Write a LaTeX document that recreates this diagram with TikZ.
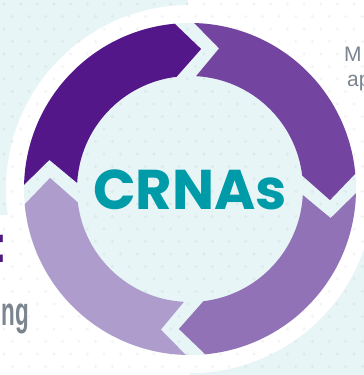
\documentclass[tikz,border=0pt]{standalone}
\usepackage{fontspec}
\setmainfont{Liberation Sans}
\newfontfamily\popfont{Poppins}
\usetikzlibrary{calc}
\definecolor{lblue}{HTML}{E8F5F7}
\definecolor{segA}{HTML}{54178A}
\definecolor{segB}{HTML}{7445A0}
\definecolor{segC}{HTML}{9172B6}
\definecolor{segD}{HTML}{AE9CCC}
\definecolor{crnateal}{HTML}{009BA8}
\definecolor{graytxt}{HTML}{7B8590}
\definecolor{headpurple}{HTML}{4E1A80}
\tikzset{
  dot/.style={fill=black, fill opacity=0.045},
  sidetext/.style={text=graytxt, inner sep=0pt, font=\fontsize{21}{24}\selectfont}
}
\begin{document}
\begin{tikzpicture}[x=1pt,y=1pt]
\clip (0,0) rectangle (364,375);
\fill[white] (0,0) rectangle (364,375);
\fill[lblue] (0,160) rectangle (188,375);
\fill[lblue] (190,0) rectangle (364,160);
\coordinate (C) at (190,186);
\fill[white] (C) circle[radius=184];
\fill[lblue] (C) circle[radius=166];
% dot pattern
\foreach \j in {0,...,30}{
  \foreach \i in {0,...,22}{
    \fill[dot] ({\i*16.67+mod(\j,2)*8.33+4},{371-\j*12.5}) circle[radius=1.7];
  }
}
% ring segments (clockwise arrows)
\foreach \ta/\col in {182/segA,92/segB,2/segC,-88/segD}{
  \pgfmathsetmacro\hd{\ta-90}
  \fill[\col] ($(C)+(\hd+3.28:166)$) -- ($(C)+(\hd:139.5)+(\hd+90:-16)$)
    -- ($(C)+(\hd+4.82:113)$)
    arc[start angle=\hd+4.82, end angle=\ta-5.07, radius=113]
    -- ($(C)+(\ta:139.5)+(\ta+90:-34)$)
    -- ($(C)+(\ta-3.45:166)$)
    arc[start angle=\ta-3.45, end angle=\hd+3.28, radius=166] -- cycle;
}
\node[font=\popfont\bfseries\fontsize{56}{60}\selectfont, text=crnateal, anchor=base, inner sep=0pt] (crnas) at (190,165) {CRNAs};
\node[sidetext, anchor=base west] (mline) at (344,313) {M};
\node[sidetext, anchor=base west] (apline) at (347,288) {ap};
\node[text=graytxt, inner sep=0pt, font=\bfseries\fontsize{40}{42}\selectfont, xscale=0.56, anchor=base east] (ngline) at (29,49) {ng};
\node[text=headpurple, inner sep=0pt, font=\bfseries\fontsize{54}{56}\selectfont, anchor=base west] (colon) at (-10,112) {:};
\end{tikzpicture}
\end{document}
